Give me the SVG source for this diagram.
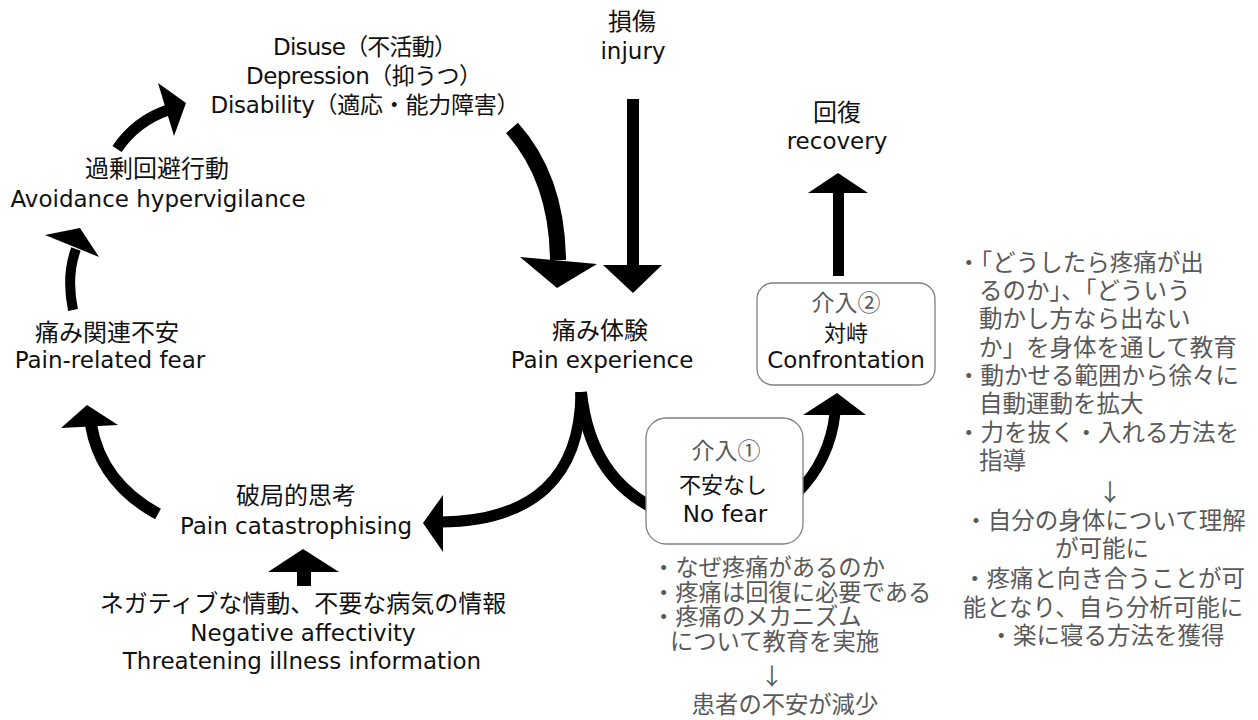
<svg xmlns="http://www.w3.org/2000/svg" width="1258" height="720" viewBox="0 0 1258 720">
<style>
  text { font-family: 'DejaVu Sans', 'Noto Sans CJK JP', sans-serif; fill: #111; }
  .lbl { font-size: 23px; text-anchor: middle; }
  .jp { font-size: 24px; text-anchor: middle; font-family: 'Noto Sans CJK JP', sans-serif; }
  .jps { font-size: 22px; text-anchor: middle; font-family: 'Noto Sans CJK JP', sans-serif; }
  .gray { fill: #595959; font-family: 'Noto Sans CJK JP', sans-serif; }
  .g1 { font-size: 23.3px; }
  .g2 { font-size: 23.5px; }
  .mid { text-anchor: middle; }
  .box { fill: #fff; stroke: #808080; stroke-width: 1.3; }
  .arr { fill: none; stroke: #000; stroke-linecap: butt; }
  .head { fill: #000; }
</style>

<g id="connectors">
  <!-- catastrophising -> pain-related fear -->
  <path class="arr" stroke-width="12" d="M 158 514 Q 101 483 91 425"/>
  <polygon class="head" points="87,405 61,428 118,425"/>
  <!-- pain-related fear -> avoidance -->
  <path class="arr" stroke-width="10" d="M 73 310 Q 66 276 76 249"/>
  <polygon class="head" points="45,235 80,228 99,257"/>
  <!-- avoidance -> disuse -->
  <path class="arr" stroke-width="11" d="M 117 149 Q 136 121 168 110"/>
  <polygon class="head" points="158,83 186,103 174,136"/>
  <!-- disuse -> pain experience -->
  <path class="arr" stroke-width="16" d="M 512 128 Q 557 178 558 260"/>
  <polygon class="head" points="520,257 597,264 557,288"/>
  <!-- injury -> pain experience -->
  <rect class="head" x="627" y="99" width="12" height="168"/>
  <polygon class="head" points="603,265 662,265 633,293"/>
  <!-- pain experience -> catastrophising -->
  <path class="arr" stroke-width="11" d="M 581 392 Q 580 520 441 522"/>
  <polygon class="head" points="423,523 443,495 443,552"/>
  <!-- pain experience -> no fear -->
  <path class="arr" stroke-width="12" d="M 581 392 Q 590 480 660 511"/>
  <!-- no fear -> confrontation -->
  <path class="arr" stroke-width="11" d="M 797 493 Q 830 460 835 413"/>
  <polygon class="head" points="837,393 803,415 866,415"/>
  <!-- confrontation -> recovery -->
  <rect class="head" x="833" y="191" width="11" height="85"/>
  <polygon class="head" points="838,173 808,193 868,193"/>
  <!-- negative info -> catastrophising -->
  <rect class="head" x="297" y="570" width="14" height="16"/>
  <polygon class="head" points="303,549 268,572 339,572"/>
</g>

<g id="n-disuse">
  <text class="lbl" x="365" y="55" textLength="184">Disuse（不活動）</text>
  <text class="lbl" x="364" y="84" textLength="236">Depression（抑うつ）</text>
  <text class="lbl" x="365" y="113" textLength="309">Disability（適応・能力障害）</text>
</g>

<g id="n-injury">
  <text class="jp" x="632" y="30">損傷</text>
  <text class="lbl" x="633" y="59">injury</text>
</g>

<g id="n-recovery">
  <text class="jp" x="837" y="121">回復</text>
  <text class="lbl" x="837" y="149">recovery</text>
</g>

<g id="n-avoid">
  <text class="jp" x="157" y="177">過剰回避行動</text>
  <text class="lbl" x="158" y="207">Avoidance hypervigilance</text>
</g>

<g id="n-fear">
  <text class="jp" x="107" y="341">痛み関連不安</text>
  <text class="lbl" x="110" y="368">Pain-related fear</text>
</g>

<g id="n-pain">
  <text class="jp" x="600" y="339">痛み体験</text>
  <text class="lbl" x="602" y="368">Pain experience</text>
</g>

<g id="n-catas">
  <text class="jp" x="296" y="504">破局的思考</text>
  <text class="lbl" x="296" y="534">Pain catastrophising</text>
</g>

<g id="n-negative">
  <text class="jp" x="303" y="612">ネガティブな情動、不要な病気の情報</text>
  <text class="lbl" x="303" y="641">Negative affectivity</text>
  <text class="lbl" x="302" y="669">Threatening illness information</text>
</g>

<g id="n-int1">
  <rect class="box" x="646" y="418" width="157" height="126" rx="20"/>
  <text class="gray mid" style="font-size:23px" x="726" y="459">介入①</text>
  <text class="jps" x="723" y="493">不安なし</text>
  <text class="lbl" x="725" y="522">No fear</text>
</g>

<g id="n-int2">
  <rect class="box" x="757" y="283" width="178" height="102" rx="16"/>
  <text class="gray mid" style="font-size:23px" x="846" y="311">介入②</text>
  <text class="jps" x="846" y="341">対峙</text>
  <text class="lbl" x="846" y="368">Confrontation</text>
</g>

<g id="n-note1">
  <text class="gray g1" x="652" y="576">・なぜ疼痛があるのか</text>
  <text class="gray g1" x="652" y="601">・疼痛は回復に必要である</text>
  <text class="gray g1" x="652" y="625">・疼痛のメカニズム</text>
  <text class="gray g1" x="670" y="650">について教育を実施</text>
  <text class="gray g1 mid" x="772" y="685">↓</text>
  <text class="gray g1 mid" x="785" y="713">患者の不安が減少</text>
</g>

<g id="n-note2">
  <text class="gray g2" x="957" y="271">・「どうしたら疼痛が出</text>
  <text class="gray g2" x="979" y="299">るのか」、「どういう</text>
  <text class="gray g2" x="979" y="327">動かし方なら出ない</text>
  <text class="gray g2" x="979" y="356">か」を身体を通して教育</text>
  <text class="gray g2" x="957" y="384">・動かせる範囲から徐々に</text>
  <text class="gray g2" x="979" y="412">自動運動を拡大</text>
  <text class="gray g2" x="957" y="441">・力を抜く・入れる方法を</text>
  <text class="gray g2" x="979" y="469">指導</text>
  <text class="gray g2 mid" x="1110" y="501">↓</text>
  <text class="gray g2 mid" x="1105" y="529">・自分の身体について理解</text>
  <text class="gray g2 mid" x="1102" y="557">が可能に</text>
  <text class="gray g2 mid" x="1104" y="587">・疼痛と向き合うことが可</text>
  <text class="gray g2 mid" x="1103" y="616">能となり、自ら分析可能に</text>
  <text class="gray g2 mid" x="1107" y="644">・楽に寝る方法を獲得</text>
</g>
</svg>
